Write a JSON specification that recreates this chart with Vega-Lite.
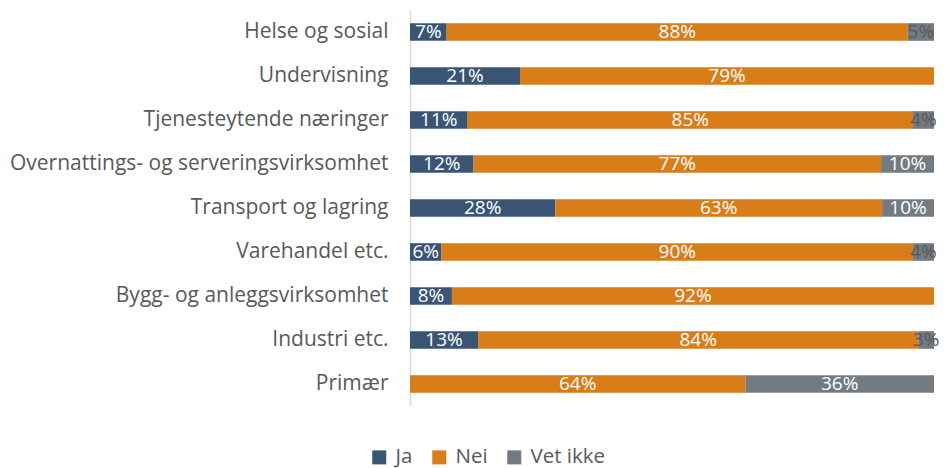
{
  "$schema": "https://vega.github.io/schema/vega-lite/v6.json",
  "autosize": {"type": "none"},
  "padding": {"left": 410, "top": 10, "right": 12, "bottom": 62},
  "width": 524,
  "height": 396,
  "background": "white",
  "config": {"view": {"stroke": null}, "font": "Open Sans"},
  "data": {"values": [
    {"cat": "Helse og sosial", "resp": "Ja", "o": 1, "v": 7},
    {"cat": "Helse og sosial", "resp": "Nei", "o": 2, "v": 88},
    {"cat": "Helse og sosial", "resp": "Vet ikke", "o": 3, "v": 5},
    {"cat": "Undervisning", "resp": "Ja", "o": 1, "v": 21},
    {"cat": "Undervisning", "resp": "Nei", "o": 2, "v": 79},
    {"cat": "Tjenesteytende næringer", "resp": "Ja", "o": 1, "v": 11},
    {"cat": "Tjenesteytende næringer", "resp": "Nei", "o": 2, "v": 85},
    {"cat": "Tjenesteytende næringer", "resp": "Vet ikke", "o": 3, "v": 4},
    {"cat": "Overnattings- og serveringsvirksomhet", "resp": "Ja", "o": 1, "v": 12},
    {"cat": "Overnattings- og serveringsvirksomhet", "resp": "Nei", "o": 2, "v": 77},
    {"cat": "Overnattings- og serveringsvirksomhet", "resp": "Vet ikke", "o": 3, "v": 10},
    {"cat": "Transport og lagring", "resp": "Ja", "o": 1, "v": 28},
    {"cat": "Transport og lagring", "resp": "Nei", "o": 2, "v": 63},
    {"cat": "Transport og lagring", "resp": "Vet ikke", "o": 3, "v": 10},
    {"cat": "Varehandel etc.", "resp": "Ja", "o": 1, "v": 6},
    {"cat": "Varehandel etc.", "resp": "Nei", "o": 2, "v": 90},
    {"cat": "Varehandel etc.", "resp": "Vet ikke", "o": 3, "v": 4},
    {"cat": "Bygg- og anleggsvirksomhet", "resp": "Ja", "o": 1, "v": 8},
    {"cat": "Bygg- og anleggsvirksomhet", "resp": "Nei", "o": 2, "v": 92},
    {"cat": "Industri etc.", "resp": "Ja", "o": 1, "v": 13},
    {"cat": "Industri etc.", "resp": "Nei", "o": 2, "v": 84},
    {"cat": "Industri etc.", "resp": "Vet ikke", "o": 3, "v": 3},
    {"cat": "Primær", "resp": "Nei", "o": 2, "v": 64},
    {"cat": "Primær", "resp": "Vet ikke", "o": 3, "v": 36}
  ]},
  "transform": [
    {"stack": "v", "groupby": ["cat"], "sort": [{"field": "o", "order": "ascending"}], "as": ["s0", "s1"], "offset": "normalize"},
    {"calculate": "(datum.s0 + datum.s1) / 2", "as": "mid"},
    {"calculate": "datum.v + '%'", "as": "lbl"}
  ],
  "encoding": {
    "y": {
      "field": "cat", "type": "nominal", "sort": null,
      "scale": {"paddingInner": 0.6, "paddingOuter": 0.3},
      "axis": {"title": null, "ticks": false, "labelFontSize": 21, "labelLimit": 500, "labelColor": "#595959", "labelPadding": 22, "domainColor": "#d9d9d9", "domainWidth": 1.5, "labelFont": "Open Sans"}
    }
  },
  "layer": [
    {
      "mark": {"type": "bar"},
      "encoding": {
        "x": {"field": "s0", "type": "quantitative", "scale": {"domain": [0, 1], "nice": false}, "axis": null},
        "x2": {"field": "s1"},
        "color": {
          "field": "resp", "type": "nominal",
          "scale": {"domain": ["Ja", "Nei", "Vet ikke"], "range": ["#3A5573", "#D97D19", "#737B82"]},
          "legend": {"title": null, "orient": "none", "direction": "horizontal", "legendX": -41, "legendY": 437, "symbolType": "square", "symbolSize": 196, "symbolOpacity": 1, "labelFontSize": 20.5, "labelColor": "#595959", "columnPadding": 16, "labelOffset": 6}
        }
      }
    },
    {
      "mark": {"type": "text", "fontSize": 19, "baseline": "middle", "align": "center"},
      "encoding": {
        "x": {"field": "mid", "type": "quantitative", "scale": {"domain": [0, 1], "nice": false}},
        "text": {"field": "lbl"},
        "color": {"condition": {"test": "datum.resp === 'Vet ikke' && datum.v < 6", "value": "#595959"}, "value": "white"}
      }
    }
  ]
}
